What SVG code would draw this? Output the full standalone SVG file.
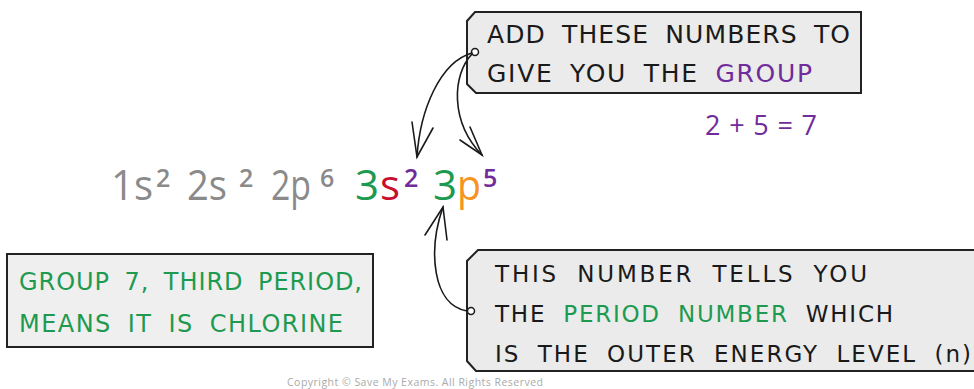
<svg xmlns="http://www.w3.org/2000/svg" width="974" height="389" viewBox="0 0 974 389">
<style>
.box{fill:#ebebeb;stroke:#222;stroke-width:2}
.lbl{font-family:"DejaVu Sans","Liberation Sans",sans-serif;fill:#1a1a1a}
.big{font-family:"Open Sans","Liberation Sans",sans-serif;font-size:42px}
.sup{font-family:"Open Sans","Liberation Sans",sans-serif;font-size:25px;font-weight:600}
.gray{fill:#8a8a8a}
.green{fill:#1e9a50}
.purple{fill:#6f2c9a}
.conn{fill:none;stroke:#1a1a1a;stroke-width:1.6;stroke-linecap:round}
.hole{fill:#fff;stroke:#1a1a1a;stroke-width:1.5}
</style>
<rect width="974" height="389" fill="#fff"/>

<g id="config">
<text class="big gray" x="111" y="200" textLength="42" lengthAdjust="spacingAndGlyphs">1s</text>
<text class="sup gray" x="156" y="187">2</text>
<text class="big gray" x="187" y="200" textLength="40" lengthAdjust="spacingAndGlyphs">2s</text>
<text class="sup gray" x="239" y="187">2</text>
<text class="big gray" x="271" y="200" textLength="40" lengthAdjust="spacingAndGlyphs">2p</text>
<text class="sup gray" x="320" y="187">6</text>
<text class="big green" x="355" y="200">3</text>
<text class="big" x="380" y="200" fill="#c8102e">s</text>
<text class="sup purple" x="404" y="187">2</text>
<text class="big green" x="433" y="200">3</text>
<text class="big" x="457" y="200" fill="#f7941d" textLength="24" lengthAdjust="spacingAndGlyphs">p</text>
<text class="sup purple" x="483" y="187">5</text>
</g>

<g id="group-note">
<path class="box" d="M475,12 H861 V93 H476 L467,84 V21 Z"/>
<circle class="hole" cx="475" cy="52" r="3.5"/>
<text class="lbl" font-size="25" word-spacing="7" x="487" y="43" textLength="363" lengthAdjust="spacing">ADD THESE NUMBERS TO</text>
<text class="lbl" font-size="25" word-spacing="7" x="487" y="82" textLength="325" lengthAdjust="spacing">GIVE YOU THE <tspan class="purple">GROUP</tspan></text>
</g>

<g id="sum">
<text class="purple" font-family="Open Sans, Liberation Sans, sans-serif" font-size="27" x="705" y="135" textLength="112" lengthAdjust="spacing">2 + 5 = 7</text>
</g>

<g id="period-note">
<path class="box" d="M478,250 H985 V371 H476 L467,361 V261 Z"/>
<circle class="hole" cx="471" cy="311" r="3.5"/>
<text class="lbl" font-size="23" word-spacing="8" x="495" y="282" textLength="372" lengthAdjust="spacing">THIS NUMBER TELLS YOU</text>
<text class="lbl" font-size="23" word-spacing="8" x="495" y="322" textLength="398" lengthAdjust="spacing">THE <tspan fill="#1e9a50">PERIOD NUMBER</tspan> WHICH</text>
<text class="lbl" font-size="23" word-spacing="8" x="495" y="362" textLength="476" lengthAdjust="spacing">IS THE OUTER ENERGY LEVEL (n)</text>
</g>

<g id="result">
<rect x="7" y="254" width="366" height="93" fill="#efefef" stroke="#222" stroke-width="2"/>
<text class="green" font-family="DejaVu Sans, Liberation Sans, sans-serif" font-size="24" word-spacing="6" x="19" y="290" textLength="343" lengthAdjust="spacing">GROUP 7, THIRD PERIOD,</text>
<text class="green" font-family="DejaVu Sans, Liberation Sans, sans-serif" font-size="24" word-spacing="7" x="19" y="332" textLength="324" lengthAdjust="spacing">MEANS IT IS CHLORINE</text>
</g>

<g id="connectors">
<path class="conn" d="M472,53 C440,62 420,110 417,157"/>
<path class="conn" d="M412,122 L417,157 L433,128"/>
<path class="conn" d="M472,54 C452,75 450,122 482,155"/>
<path class="conn" d="M460,140 L482,155 L470,127"/>
<path class="conn" d="M443,207 C428,250 432,305 467,311"/>
<path class="conn" d="M425,235 L443,207 L447,240"/>
</g>

<text x="287" y="386" font-family="Open Sans, Liberation Sans, sans-serif" font-size="10.5" fill="#aaa" textLength="256" lengthAdjust="spacing">Copyright © Save My Exams. All Rights Reserved</text>
</svg>
